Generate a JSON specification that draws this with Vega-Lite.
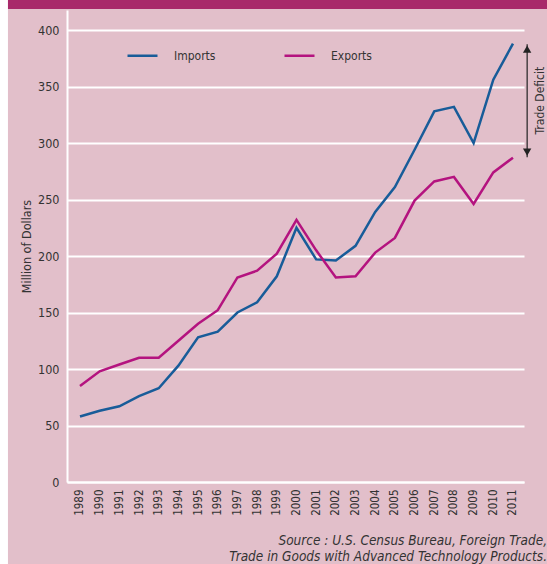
{
  "$schema": "https://vega.github.io/schema/vega-lite/v6.json",
  "width": 457,
  "height": 472,
  "autosize": {"type": "none"},
  "padding": {"left": 67, "top": 10, "right": 23, "bottom": 82},
  "background": "#E2BFCA",
  "config": {
    "view": {"stroke": null},
    "font": "DejaVu Sans Condensed, sans-serif",
    "axisX": {"labelOverlap": false, "labelSeparation": 0, "tickCount": 40}
  },
  "title": {
    "text": ["Source : U.S. Census Bureau, Foreign Trade,", "Trade in Goods with Advanced Technology Products."],
    "orient": "bottom",
    "anchor": "end",
    "frame": "group",
    "fontStyle": "italic",
    "fontWeight": "normal",
    "fontSize": 13.5,
    "lineHeight": 15.5,
    "color": "#333333",
    "dx": 23,
    "offset": -30
  },
  "data": {
    "values": [
      {"Year": 1989, "Series": "Imports", "Value": 58}, {"Year": 1989, "Series": "Exports", "Value": 85},
      {"Year": 1990, "Series": "Imports", "Value": 63}, {"Year": 1990, "Series": "Exports", "Value": 98},
      {"Year": 1991, "Series": "Imports", "Value": 67}, {"Year": 1991, "Series": "Exports", "Value": 104},
      {"Year": 1992, "Series": "Imports", "Value": 76}, {"Year": 1992, "Series": "Exports", "Value": 110},
      {"Year": 1993, "Series": "Imports", "Value": 83}, {"Year": 1993, "Series": "Exports", "Value": 110},
      {"Year": 1994, "Series": "Imports", "Value": 103}, {"Year": 1994, "Series": "Exports", "Value": 125},
      {"Year": 1995, "Series": "Imports", "Value": 128}, {"Year": 1995, "Series": "Exports", "Value": 140},
      {"Year": 1996, "Series": "Imports", "Value": 133}, {"Year": 1996, "Series": "Exports", "Value": 152},
      {"Year": 1997, "Series": "Imports", "Value": 150}, {"Year": 1997, "Series": "Exports", "Value": 181},
      {"Year": 1998, "Series": "Imports", "Value": 159}, {"Year": 1998, "Series": "Exports", "Value": 187},
      {"Year": 1999, "Series": "Imports", "Value": 182}, {"Year": 1999, "Series": "Exports", "Value": 202},
      {"Year": 2000, "Series": "Imports", "Value": 225}, {"Year": 2000, "Series": "Exports", "Value": 232},
      {"Year": 2001, "Series": "Imports", "Value": 197}, {"Year": 2001, "Series": "Exports", "Value": 205},
      {"Year": 2002, "Series": "Imports", "Value": 196}, {"Year": 2002, "Series": "Exports", "Value": 181},
      {"Year": 2003, "Series": "Imports", "Value": 209}, {"Year": 2003, "Series": "Exports", "Value": 182},
      {"Year": 2004, "Series": "Imports", "Value": 239}, {"Year": 2004, "Series": "Exports", "Value": 203},
      {"Year": 2005, "Series": "Imports", "Value": 261}, {"Year": 2005, "Series": "Exports", "Value": 216},
      {"Year": 2006, "Series": "Imports", "Value": 294}, {"Year": 2006, "Series": "Exports", "Value": 249},
      {"Year": 2007, "Series": "Imports", "Value": 328}, {"Year": 2007, "Series": "Exports", "Value": 266},
      {"Year": 2008, "Series": "Imports", "Value": 332}, {"Year": 2008, "Series": "Exports", "Value": 270},
      {"Year": 2009, "Series": "Imports", "Value": 300}, {"Year": 2009, "Series": "Exports", "Value": 246},
      {"Year": 2010, "Series": "Imports", "Value": 356}, {"Year": 2010, "Series": "Exports", "Value": 274},
      {"Year": 2011, "Series": "Imports", "Value": 388}, {"Year": 2011, "Series": "Exports", "Value": 287}
    ]
  },
  "layer": [
    {
      "data": {"values": [{}]},
      "mark": {"type": "rect", "color": "#A8296A"},
      "encoding": {
        "x": {"datum": 1984.9, "type": "quantitative"},
        "x2": {"datum": 2012.8},
        "y": {"datum": 427, "type": "quantitative"},
        "y2": {"datum": 418.6}
      }
    },
    {
      "data": {"values": [{}]},
      "mark": {"type": "rect", "color": "#FFFFFF"},
      "encoding": {
        "x": {"datum": 1984.9, "type": "quantitative"},
        "x2": {"datum": 1985.34},
        "y": {"datum": 427, "type": "quantitative"},
        "y2": {"datum": -73}
      }
    },
    {
      "mark": {"type": "line", "strokeWidth": 2.5},
      "encoding": {
        "x": {
          "field": "Year",
          "type": "quantitative",
          "scale": {"domain": [1988.34, 2011.56], "nice": false, "zero": false},
          "axis": {
            "values": [1989, 1990, 1991, 1992, 1993, 1994, 1995, 1996, 1997, 1998, 1999, 2000, 2001, 2002, 2003, 2004, 2005, 2006, 2007, 2008, 2009, 2010, 2011],
            "tickCount": 40,
            "format": "d",
            "labelAngle": 270,
            "labelPadding": 7,
            "labelFontSize": 11.5,
            "labelColor": "#333333",
            "labelFlush": false,
            "labelOverlap": false,
            "labelSeparation": 0,
            "ticks": false,
            "grid": false,
            "domainColor": "#FFFFFF",
            "domainWidth": 2,
            "title": null
          }
        },
        "y": {
          "field": "Value",
          "type": "quantitative",
          "scale": {"domain": [0, 417.7], "nice": false},
          "axis": {
            "values": [0, 50, 100, 150, 200, 250, 300, 350, 400],
            "tickCount": 20,
            "labelPadding": 8,
            "labelFontSize": 12.5,
            "labelColor": "#333333",
            "ticks": false,
            "grid": true,
            "gridColor": "#FFFFFF",
            "gridWidth": 2,
            "gridOpacity": 1,
            "domainColor": "#FFFFFF",
            "domainWidth": 2,
            "title": "Million of Dollars",
            "titleFontWeight": "normal",
            "titleFontSize": 12.5,
            "titleColor": "#333333",
            "titlePadding": 4
          }
        },
        "color": {
          "field": "Series",
          "type": "nominal",
          "scale": {"domain": ["Imports", "Exports"], "range": ["#185C99", "#B4137F"]},
          "legend": {
            "orient": "none",
            "legendX": 59,
            "legendY": 29,
            "direction": "horizontal",
            "title": null,
            "symbolType": "stroke",
            "symbolSize": 900,
            "symbolStrokeWidth": 2.5,
            "labelFontSize": 12,
            "labelColor": "#333333",
            "labelOffset": 15,
            "columnPadding": 63
          }
        }
      }
    },
    {
      "data": {"values": [{}]},
      "mark": {"type": "rule", "color": "#222222", "strokeWidth": 1.2},
      "encoding": {
        "x": {"datum": 2011.72, "type": "quantitative"},
        "y": {"datum": 287.5, "type": "quantitative"},
        "y2": {"datum": 387.5}
      }
    },
    {
      "data": {"values": [{}]},
      "mark": {"type": "point", "shape": "triangle-up", "filled": true, "color": "#222222", "size": 70, "opacity": 1},
      "encoding": {
        "x": {"datum": 2011.72, "type": "quantitative"},
        "y": {"datum": 383, "type": "quantitative"}
      }
    },
    {
      "data": {"values": [{}]},
      "mark": {"type": "point", "shape": "triangle-down", "filled": true, "color": "#222222", "size": 70, "opacity": 1},
      "encoding": {
        "x": {"datum": 2011.72, "type": "quantitative"},
        "y": {"datum": 292, "type": "quantitative"}
      }
    },
    {
      "data": {"values": [{}]},
      "mark": {"type": "text", "text": "Trade Deficit", "angle": 270, "align": "center", "baseline": "middle", "fontSize": 12, "color": "#333333"},
      "encoding": {
        "x": {"datum": 2012.36, "type": "quantitative"},
        "y": {"datum": 337.5, "type": "quantitative"}
      }
    }
  ]
}
